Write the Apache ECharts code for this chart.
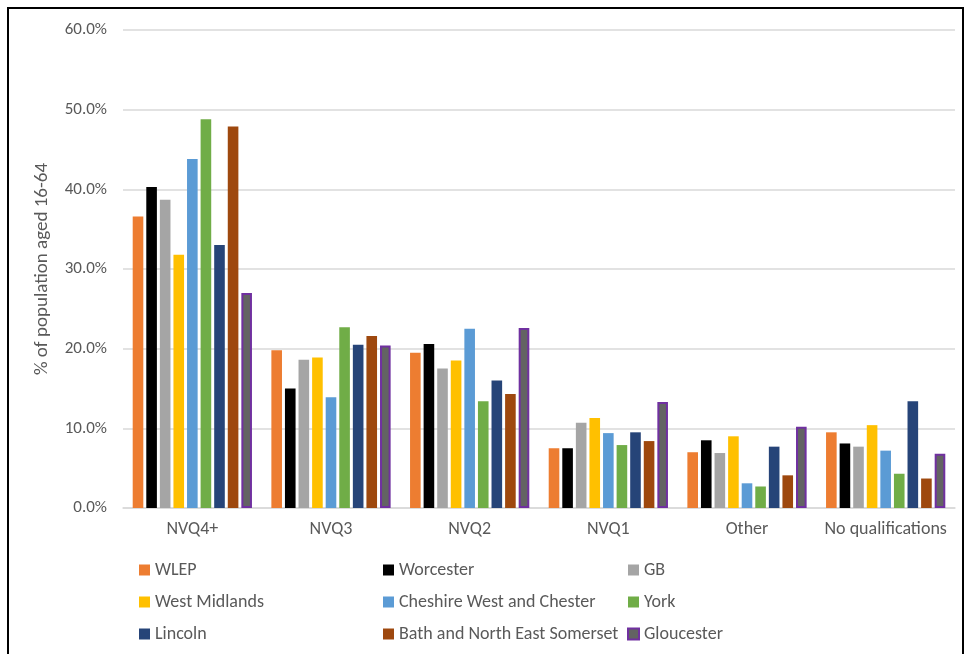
<!DOCTYPE html>
<html>
<head>
<meta charset="utf-8">
<script src="https://cdn.jsdelivr.net/npm/echarts@6/dist/echarts.min.js"></script>
<style>
  html, body { margin: 0; padding: 0; background: #fff; }
  #chart { width: 972px; height: 654px; }
</style>
</head>
<body>
<div id="chart"></div>
<script>
// qualification levels
var categories = ['NVQ4+', 'NVQ3', 'NVQ2', 'NVQ1', 'Other', 'No qualifications'];

var areaNames = ['WLEP', 'Worcester', 'GB', 'West Midlands', 'Cheshire West and Chester',
    'York', 'Lincoln', 'Bath and North East Somerset', 'Gloucester'];

/* % of population aged 16-64 */
var wlep        = [36.6, 19.8, 19.5, 7.5, 7.0, 9.5];
var worcester   = [40.3, 15.0, 20.6, 7.5, 8.5, 8.1];
var gb          = [38.7, 18.6, 17.5, 10.7, 6.9, 7.7];
var westMids    = [31.8, 18.9, 18.5, 11.3, 9.0, 10.4];
var cheshire    = [43.8, 13.9, 22.5, 9.4, 3.1, 7.2];
var york        = [48.8, 22.7, 13.4, 7.9, 2.7, 4.3];
var lincoln     = [33.0, 20.5, 16.0, 9.5, 7.7, 13.4];
var bath        = [47.9, 21.6, 14.3, 8.4, 4.1, 3.7];
var gloucester  = [27.0, 20.4, 22.6, 13.3, 10.2, 6.8];

var allValues = [wlep, worcester, gb, westMids, cheshire, york, lincoln, bath, gloucester];
var colours = ['#ED7D31', '#000000', '#A5A5A5', '#FFC000', '#5B9BD5', '#70AD47', '#264478', '#9E480E', '#636363'];

var fontName = 'Carlito, "Liberation Sans", sans-serif';
var textGrey = '#595959';

function buildSeries() {
    var list = [];
    for (var i = 0; i < areaNames.length; i++) {
        var style = { color: colours[i] };
        if (areaNames[i] == 'Gloucester') {
            style.borderColor = '#7030A0';
            style.borderWidth = 2;
        }
        list.push({
            name: areaNames[i],
            type: 'bar',
            data: allValues[i],
            barGap: '28%',
            barCategoryGap: '14%',
            itemStyle: style
        });
    }
    return list;
}

function legendColumn(left, names) {
    return {
        orient: 'vertical',
        left: left,
        top: 555,
        itemWidth: 11,
        itemHeight: 11,
        itemGap: 12,
        icon: 'rect',
        data: names,
        textStyle: { color: textGrey, fontSize: 18, fontFamily: fontName, lineHeight: 20 }
    };
}

var chart = echarts.init(document.getElementById('chart'));

var option = {
    backgroundColor: '#fff',
    animation: false,
    graphic: [{
        type: 'rect',
        shape: { x: 8, y: 8, width: 955, height: 660 },
        style: { fill: null, stroke: '#000', lineWidth: 2 },
        silent: true
    }],
    grid: { left: 123, right: 17, top: 30, bottom: 146 },
    legend: [
        legendColumn(134, ['WLEP', 'West Midlands', 'Lincoln']),
        legendColumn(378, ['Worcester', 'Cheshire West and Chester', 'Bath and North East Somerset']),
        legendColumn(622, ['GB', 'York', 'Gloucester'])
    ],
    xAxis: {
        type: 'category',
        data: categories,
        axisTick: { show: false },
        axisLine: { lineStyle: { color: '#D9D9D9', width: 1.5 } },
        axisLabel: { color: textGrey, fontSize: 18, fontFamily: fontName, margin: 12, interval: 0 }
    },
    yAxis: {
        type: 'value',
        min: 0,
        max: 60,
        interval: 10,
        name: '% of population aged 16-64',
        nameLocation: 'middle',
        nameGap: 71,
        nameTextStyle: { color: textGrey, fontSize: 19, fontFamily: fontName },
        axisLabel: {
            color: textGrey, fontSize: 17, fontFamily: fontName, margin: 16,
            formatter: function (v) { return v.toFixed(1) + '%'; }
        },
        splitLine: { lineStyle: { color: '#D9D9D9', width: 1.5 } }
    },
    series: buildSeries()
};

chart.setOption(option);
</script>
</body>
</html>
